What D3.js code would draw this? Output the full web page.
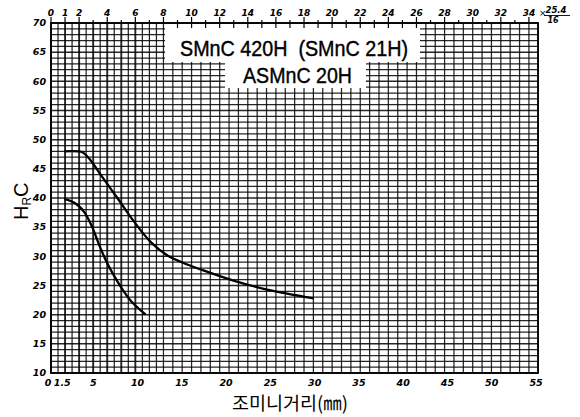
<!DOCTYPE html>
<html><head><meta charset="utf-8">
<script src="https://cdn.jsdelivr.net/npm/d3@7"></script>
<style>body{margin:0;background:#fff}svg{display:block}</style>
</head><body><svg id="c" width="580" height="417"></svg>
<script>
// ---- data ----
const hrcTicks = [10,15,20,25,30,35,40,45,50,55,60,65,70];
const mmTicks = [0,1.5,5,10,15,20,25,30,35,40,45,50,55];
const mmTickLabels = ["0","1.5","5","10","15","20","25","30","35","40","45","50","55"];
const sixteenthLabels = [0,1,2,4,6,8,10,12,14,16,18,20,22,24,26,28,30,32,34];
const maxDist = [1.5,3.0,3.6,4.4,5.6,7.5,9.4,11.3,13.2,15.4,17.0,20.7,24.4,29.7];
const maxHrc  = [48,48,47.8,46.6,44.0,40.0,35.9,32.4,30.1,28.6,27.7,25.8,24.3,22.8];
const minDist = [1.5,2.2,3.0,3.8,4.6,5.4,6.2,7.0,8.0,9.0,10.7];
const minHrc  = [39.8,39.5,38.8,37.5,35.2,32.1,29.3,27.0,24.5,22.4,20.0];
const titleLines = ["SMnC 420H  (SMnC 21H)","ASMnC 20H"];
const yTitle = ["H","R","C"];
const xTitle = "조미니거리(㎜)";
const inchFactor = ["25.4","16"];

// ---- layout ----
const L=51, R=538, T=23, B=373;
const svg = d3.select("#c");
const x = d3.scaleLinear().domain([0,55]).range([L,R]);
const y = d3.scaleLinear().domain([10,70]).range([B,T]);
const s16 = n => x(n*25.4/16);
const numFont = "'DejaVu Sans', sans-serif";

// ---- grid ----
const g = svg.append("g");
const hLines = d3.range(10,71,1);
g.selectAll("line.h").data(hLines).join("line")
  .attr("x1",L).attr("x2",R).attr("y1",d=>y(d)).attr("y2",d=>y(d))
  .attr("stroke","#000").attr("stroke-width",d=>d%5===0?1.5:1.25).attr("stroke-opacity",0.85);
const vPos = d3.range(0,8,0.5).concat(d3.range(8,34.01,2/3)).concat([34.66]);
g.selectAll("line.v").data(vPos).join("line")
  .attr("x1",d=>s16(d)).attr("x2",d=>s16(d)).attr("y1",T).attr("y2",B)
  .attr("stroke","#000").attr("stroke-width",d=>(d<=6 && Number.isInteger(d))?1.9:1.25).attr("stroke-opacity",0.85);

// white patches behind title
svg.append("rect").attr("x",165).attr("y",T+1).attr("width",255).attr("height",38).attr("fill","#fff");
svg.append("rect").attr("x",225).attr("y",60).attr("width",141).attr("height",28).attr("fill","#fff");
svg.selectAll("line.tt").data(d3.range(8,34,1).filter(d=>s16(d)>165 && s16(d)<420)).join("line")
  .attr("x1",d=>s16(d)).attr("x2",d=>s16(d)).attr("y1",T).attr("y2",T+5)
  .attr("stroke","#000").attr("stroke-width",1.2);

// frame
svg.append("rect").attr("x",L).attr("y",T).attr("width",R-L).attr("height",B-T)
  .attr("fill","none").attr("stroke","#000").attr("stroke-width",1.8);

// top ticks
svg.selectAll("line.top").data(d3.range(0,35,1)).join("line")
  .attr("x1",d=>s16(d)).attr("x2",d=>s16(d)).attr("y1",d=>d%2===0||d===1?T-6:T-3).attr("y2",T)
  .attr("stroke","#000").attr("stroke-width",1.2);

// ---- curves ----
const line = d3.line().curve(d3.curveCatmullRom.alpha(0.5)).x(d=>x(d[0])).y(d=>y(d[1]));
svg.append("path").datum(d3.zip(maxDist,maxHrc)).attr("d",line)
  .attr("fill","none").attr("stroke","#000").attr("stroke-width",2.3);
svg.append("path").datum(d3.zip(minDist,minHrc)).attr("d",line)
  .attr("fill","none").attr("stroke","#000").attr("stroke-width",2.3);

// ---- axis labels ----
svg.selectAll("text.yl").data(hrcTicks).join("text")
  .attr("x",46).attr("y",d=>y(d)).attr("dy","0.35em").attr("text-anchor","end")
  .attr("font-family",numFont).attr("font-size",9.5).attr("font-style","italic").attr("font-weight","bold")
  .text(d=>d);
svg.selectAll("text.xl").data(mmTicks).join("text")
  .attr("x",(d,i)=>x(d)-(i===0?3:2)).attr("y",386).attr("text-anchor","middle")
  .attr("font-family",numFont).attr("font-size",9.5).attr("font-style","italic").attr("font-weight","bold")
  .text((d,i)=>mmTickLabels[i]);
svg.selectAll("text.tl").data(sixteenthLabels).join("text")
  .attr("x",d=>s16(d)).attr("y",16).attr("text-anchor","middle")
  .attr("font-family",numFont).attr("font-size",9).attr("font-style","italic").attr("font-weight","bold")
  .text(d=>d);
// × 25.4/16
svg.append("text").attr("x",539).attr("y",16).attr("font-family",numFont).attr("font-size",9)
  .attr("font-style","italic").text("×");
svg.append("text").attr("x",556).attr("y",13).attr("text-anchor","middle").attr("font-family",numFont)
  .attr("font-size",8.5).attr("font-style","italic").attr("font-weight","bold").text(inchFactor[0]);
svg.append("line").attr("x1",544).attr("x2",570).attr("y1",15.5).attr("y2",15.5).attr("stroke","#000").attr("stroke-width",0.9);
svg.append("text").attr("x",553).attr("y",23).attr("text-anchor","middle").attr("font-family",numFont)
  .attr("font-size",8).attr("font-style","italic").attr("font-weight","bold").text(inchFactor[1]);

// ---- titles ----
svg.append("text").attr("x",180).attr("y",56).attr("font-family","'Liberation Sans', Arial, sans-serif")
  .attr("font-size",22).attr("textLength",228).attr("lengthAdjust","spacingAndGlyphs")
  .attr("stroke","#000").attr("stroke-width",0.4)
  .style("white-space","pre").text(titleLines[0]);
svg.append("text").attr("x",243).attr("y",83).attr("font-family","'Liberation Sans', Arial, sans-serif")
  .attr("font-size",22).attr("textLength",109).attr("lengthAdjust","spacingAndGlyphs")
  .attr("stroke","#000").attr("stroke-width",0.4)
  .text(titleLines[1]);

// y title
const yt = svg.append("text").attr("transform","translate(28,220) rotate(-90)")
  .attr("font-family","'Liberation Sans', Arial, sans-serif").attr("font-size",20);
yt.append("tspan").text(yTitle[0]);
yt.append("tspan").attr("font-size",12).attr("dy",3).text(yTitle[1]);
yt.append("tspan").attr("dy",-3).text(yTitle[2]);

// x title
svg.append("text").attr("x",290).attr("y",410).attr("text-anchor","middle")
  .attr("font-family","'Noto Sans CJK KR', sans-serif").attr("font-size",18.5).text(xTitle);
</script></body></html>
